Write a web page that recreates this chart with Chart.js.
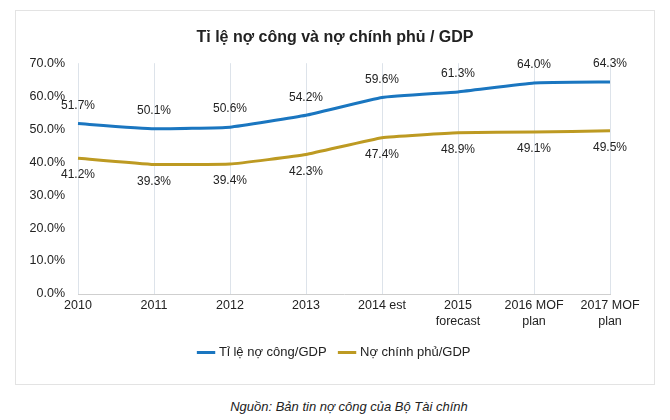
<!DOCTYPE html>
<html>
<head>
<meta charset="utf-8">
<script src="https://cdn.jsdelivr.net/npm/chart.js@4"></script>
<style>
  body { margin: 0; background: #fff; font-family: "Liberation Sans", Arial, sans-serif; }
  #box { position: absolute; left: 15px; top: 10px; width: 638px; height: 373px; border: 1px solid #e3e3e3; }
  #source { position: absolute; left: 0; top: 399px; width: 698px; text-align: center; font-style: italic; font-size: 13px; color: #222; }
</style>
</head>
<body>
<div id="box"><canvas id="chart" width="638" height="373"></canvas></div>
<div id="source">Nguồn: Bản tin nợ công của Bộ Tài chính</div>
<script>
// categories and values
const years = ['2010', '2011', '2012', '2013', '2014 est', ['2015', 'forecast'], ['2016 MOF', 'plan'], ['2017 MOF', 'plan']];
const publicDebt = [51.7, 50.1, 50.6, 54.2, 59.6, 61.3, 64.0, 64.3];
const govDebt = [41.2, 39.3, 39.4, 42.3, 47.4, 48.9, 49.1, 49.5];
const yTicks = [0, 10, 20, 30, 40, 50, 60, 70];

const font = "'Liberation Sans', Arial, sans-serif";

// draws the value next to each point: first series above, second below
const valueLabels = {
  id: 'valueLabels',
  afterDatasetsDraw(chart) {
    const ctx = chart.ctx;
    ctx.save();
    ctx.font = '12px ' + font;
    ctx.fillStyle = '#222';
    ctx.textAlign = 'center';
    ctx.textBaseline = 'middle';
    chart.data.datasets.forEach(function(ds, i) {
      const meta = chart.getDatasetMeta(i);
      meta.data.forEach(function(pt, j) {
        const dy = i === 0 ? -18 : 17;
        ctx.fillText(ds.data[j].toFixed(1) + '%', pt.x, pt.y + dy);
      });
    });
    ctx.restore();
  }
};

new Chart(document.getElementById('chart'), {
  type: 'line',
  data: {
    labels: years,
    datasets: [{
      label: 'Tỉ lệ nợ công/GDP',
      data: publicDebt,
      borderColor: '#1a76c0',
      backgroundColor: '#1a76c0',
      borderWidth: 3,
      pointRadius: 0,
      tension: 0.1
    }, {
      label: 'Nợ chính phủ/GDP',
      data: govDebt,
      borderColor: '#bd9a22',
      backgroundColor: '#bd9a22',
      borderWidth: 3,
      pointRadius: 0,
      tension: 0.1
    }]
  },
  options: {
    responsive: false,
    animation: false,
    layout: { padding: { left: 0, right: 0, top: 0, bottom: 15 } },
    scales: {
      x: {
        offset: false,
        afterFit: function(scale) { scale.height = 38; },
        grid: { color: '#dde3ea', drawTicks: false },
        border: { color: '#cfcfcf' },
        ticks: { color: '#222', font: { size: 12.5, family: font, lineHeight: 1.25 }, padding: 4, maxRotation: 0, autoSkip: false }
      },
      y: {
        min: 0,
        max: 70,
        afterFit: function(scale) { scale.width = 62; },
        afterBuildTicks: function(scale) { scale.ticks = yTicks.map(function(v) { return { value: v }; }); },
        grid: { display: false },
        border: { display: false },
        ticks: {
          color: '#222',
          font: { size: 12.5, family: font },
          padding: 5,
          callback: function(v) { return v.toFixed(1) + '%'; }
        }
      },
      // empty right-hand axis, only keeps space on the right
      right: {
        position: 'right',
        afterFit: function(scale) { scale.width = 44; },
        grid: { display: false },
        border: { display: false },
        ticks: { display: false }
      }
    },
    plugins: {
      title: {
        display: true,
        text: 'Tỉ lệ nợ công và nợ chính phủ / GDP',
        color: '#222',
        font: { size: 16, weight: 'bold', family: font },
        padding: { top: 17, bottom: 16 }
      },
      legend: {
        position: 'bottom',
        labels: {
          color: '#222',
          font: { size: 13, family: font },
          usePointStyle: true,
          pointStyle: 'line',
          boxWidth: 28,
          padding: 14
        }
      },
      tooltip: { enabled: false }
    }
  },
  plugins: [valueLabels]
});
</script>
</body>
</html>
